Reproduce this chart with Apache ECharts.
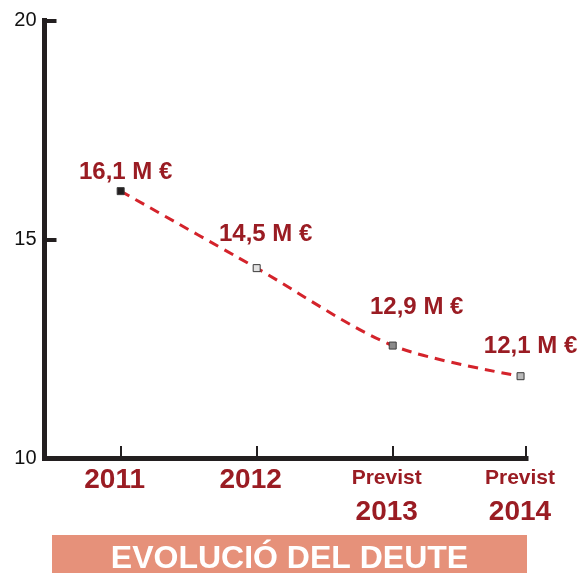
<!DOCTYPE html>
<html>
<head>
<meta charset="utf-8">
<script src="https://cdn.jsdelivr.net/npm/echarts@6/dist/echarts.min.js"></script>
<style>
html,body{margin:0;padding:0;background:#fff;}
#chart{width:579px;height:573px;}
</style>
</head>
<body>
<div id="chart"></div>
<script>
// ---- data ----
var years = [2011, 2012, 2013, 2014];
var xValues = [2011, 2012, 2013, 2013.94];      // x position
var debtValues = [16.1, 14.34, 12.57, 11.87];   // plotted level
var valueLabels = ['16,1 M €', '14,5 M €', '12,9 M €', '12,1 M €'];
var prefixes = ['', '', 'Previst', 'Previst'];
var yTicks = [10, 15, 20];
var title = 'EVOLUCIÓ DEL DEUTE';

// ---- styles ----
var markerFills = ['#231f20', '#e2e2e2', '#8a8a8a', '#b9b9b9'];
var labelOffsets = [[5, -19], [9, -34], [24, -38], [10, -30]];
var darkRed = '#9a1c23';
var axisColor = '#231f20';
var xMin = 2010.44, xMax = 2013.98;

var chart = echarts.init(document.getElementById('chart'));

var seriesData = xValues.map(function (x, i) {
  return {
    value: [x, debtValues[i]],
    itemStyle: { color: markerFills[i], borderColor: '#3a3a3a', borderWidth: 1 },
    label: {
      show: true,
      position: 'inside',
      offset: labelOffsets[i],
      formatter: valueLabels[i],
      color: darkRed,
      fontFamily: 'Liberation Sans',
      fontWeight: 'bold',
      fontSize: 24
    }
  };
});

var tickValues = [2011, 2012, 2013, xMax];

chart.setOption({
  animation: false,
  backgroundColor: '#fff',
  grid: { left: 44.5, right: 53, top: 20.5, bottom: 115 },
  xAxis: {
    type: 'value',
    min: xMin,
    max: xMax,
    splitLine: { show: false },
    axisLine: { show: true, lineStyle: { color: axisColor, width: 5, cap: 'square' } },
    axisTick: {
      show: true, inside: true, length: 12,
      customValues: tickValues,
      lineStyle: { color: axisColor, width: 2 }
    },
    axisLabel: {
      show: true,
      customValues: tickValues,
      margin: 6,
      padding: [0, 12, 0, 0],
      formatter: function (v) {
        var idx = years.indexOf(Math.round(v));
        if (idx < 0) return '';
        if (prefixes[idx]) return '{p|' + prefixes[idx] + '}\n{y2|' + years[idx] + '}';
        return '{y|' + years[idx] + '}';
      },
      rich: {
        y: { fontFamily: 'Liberation Sans', fontWeight: 'bold', fontSize: 28, lineHeight: 32, color: darkRed },
        p: { fontFamily: 'Liberation Sans', fontWeight: 'bold', fontSize: 21, lineHeight: 28, color: darkRed },
        y2: { fontFamily: 'Liberation Sans', fontWeight: 'bold', fontSize: 28, lineHeight: 40, color: darkRed }
      }
    }
  },
  yAxis: {
    type: 'value',
    min: yTicks[0],
    max: yTicks[yTicks.length - 1],
    interval: yTicks[1] - yTicks[0],
    splitLine: { show: false },
    axisLine: { show: true, lineStyle: { color: axisColor, width: 5, cap: 'square' } },
    axisTick: { show: true, inside: true, length: 12, lineStyle: { color: axisColor, width: 4 } },
    axisLabel: {
      margin: 8,
      color: '#111',
      fontFamily: 'Liberation Sans',
      fontSize: 20
    }
  },
  series: [{
    type: 'line',
    data: seriesData,
    smooth: 0.3,
    symbol: 'rect',
    symbolSize: 7,
    lineStyle: { color: '#d4232b', width: 3, type: [10, 7] },
    z: 3
  }],
  graphic: [
    {
      type: 'rect',
      left: 52, top: 535,
      shape: { width: 475, height: 40 },
      style: { fill: '#e6917a' },
      z: 1
    },
    {
      type: 'text',
      left: 'center',
      top: 543,
      style: {
        text: title,
        fill: '#ffffff',
        font: 'bold 32px "Liberation Sans"'
      },
      z: 2
    }
  ]
});
</script>
</body>
</html>
